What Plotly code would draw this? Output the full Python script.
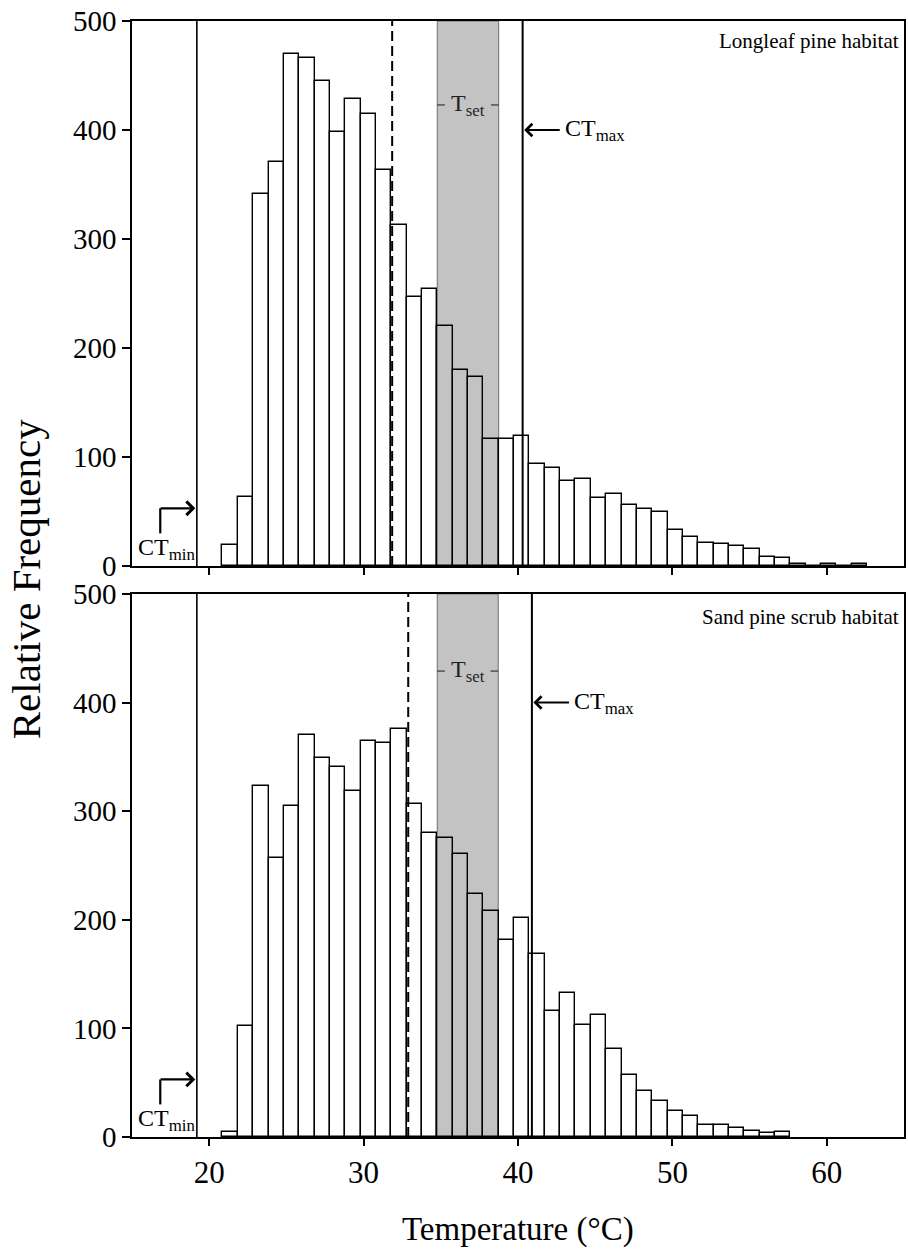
import plotly.graph_objects as go

# ---------------- data ----------------
top_bins = list(range(21, 63))
top_freq = [19, 63, 341, 371, 470, 466, 445, 398, 428, 415, 363, 313, 247, 254,
            220, 180, 173, 117, 117, 119, 94, 90, 78, 80, 62, 66, 56, 52, 50, 33,
            27, 21, 20, 18, 16, 8, 7, 1.5, 0, 1.5, 0, 1.5]

bot_bins = list(range(21, 58))
bot_freq = [5, 102, 323, 257, 305, 370, 349, 341, 319, 365, 363, 376, 307, 280,
            275, 261, 224, 208, 181, 202, 169, 116, 133, 103, 112, 81, 57, 42, 33,
            24, 19, 11, 11, 8, 6, 4, 5]

panel_titles = ["Longleaf pine habitat", "Sand pine scrub habitat"]
tset_lo = [34.77, 34.77]
tset_hi = [38.75, 38.72]
mean_temp = [31.85, 32.89]
ct_max = [40.3, 40.9]
ct_min = [19.2, 19.2]
x_ticks = [20, 30, 40, 50, 60]
y_ticks = [0, 100, 200, 300, 400, 500]

# ---------------- style ----------------
FONT = "Liberation Serif"
BIN_ORIGIN = 20.86
BIN_W = 0.994


def centers(bins):
    return [BIN_ORIGIN + (b - 21) * BIN_W + BIN_W / 2 for b in bins]


fig = go.Figure()
fig.add_trace(go.Bar(x=centers(top_bins), y=top_freq, width=BIN_W,
                     marker=dict(color="rgba(0,0,0,0)", line=dict(color="black", width=1.4)),
                     xaxis="x", yaxis="y", showlegend=False))
fig.add_trace(go.Bar(x=centers(bot_bins), y=bot_freq, width=BIN_W,
                     marker=dict(color="rgba(0,0,0,0)", line=dict(color="black", width=1.4)),
                     xaxis="x2", yaxis="y2", showlegend=False))

shapes = []
annotations = []
for i, (xr, yr) in enumerate([("x", "y"), ("x2", "y2")]):
    # Tset band
    shapes.append(dict(type="rect", xref=xr, yref=yr, x0=tset_lo[i], x1=tset_hi[i],
                       y0=0, y1=500, fillcolor="#c3c3c3",
                       line=dict(color="#6e6e6e", width=1), layer="below"))
    # mean (dashed)
    shapes.append(dict(type="line", xref=xr, yref=yr, x0=mean_temp[i], x1=mean_temp[i],
                       y0=0, y1=500, line=dict(color="black", width=2, dash="10px,5px"),
                       layer="above"))
    # CTmax
    shapes.append(dict(type="line", xref=xr, yref=yr, x0=ct_max[i], x1=ct_max[i],
                       y0=0, y1=500, line=dict(color="black", width=2), layer="above"))
    # CTmin
    shapes.append(dict(type="line", xref=xr, yref=yr, x0=ct_min[i], x1=ct_min[i],
                       y0=0, y1=500, line=dict(color="black", width=1.6), layer="above"))
    # Tset label dashes
    ty = 423 if i == 0 else 429
    shapes.append(dict(type="line", xref=xr, yref=yr, x0=tset_lo[i], x1=tset_lo[i] + 0.5,
                       y0=ty, y1=ty, line=dict(color="#333333", width=1.2)))
    shapes.append(dict(type="line", xref=xr, yref=yr, x0=tset_hi[i] - 0.5, x1=tset_hi[i],
                       y0=ty, y1=ty, line=dict(color="#333333", width=1.2)))
    annotations.append(dict(xref=xr, yref=yr, x=(tset_lo[i] + tset_hi[i]) / 2, y=ty,
                            text="T<sub>set</sub>", showarrow=False,
                            font=dict(family=FONT, size=24, color="#222222")))
    # CTmax arrow + text
    tail = ct_max[i] + 2.5
    annotations.append(dict(xref=xr, yref=yr, x=ct_max[i] + 0.1, y=400, ax=tail, ay=400,
                            axref=xr, ayref=yr, text="", showarrow=True, arrowhead=4,
                            arrowsize=1.2, arrowwidth=2, arrowcolor="black", standoff=0))
    annotations.append(dict(xref=xr, yref=yr, x=tail + 0.1, y=400, text="CT<sub>max</sub>",
                            xanchor="left", showarrow=False,
                            font=dict(family=FONT, size=24, color="black")))
    # CTmin bent arrow + text
    bx = 16.83
    shapes.append(dict(type="line", xref=xr, yref=yr, x0=bx, x1=bx, y0=30, y1=53,
                       line=dict(color="black", width=2.2)))
    annotations.append(dict(xref=xr, yref=yr, x=ct_min[i] - 0.1, y=53, ax=bx - 0.07, ay=53,
                            axref=xr, ayref=yr, text="", showarrow=True, arrowhead=4,
                            arrowsize=1.2, arrowwidth=2.2, arrowcolor="black", standoff=0))
    annotations.append(dict(xref=xr, yref=yr, x=15.25, y=16 if i == 0 else 15.5,
                            text="CT<sub>min</sub>", xanchor="left", showarrow=False,
                            font=dict(family=FONT, size=24, color="black")))
    # habitat label
    annotations.append(dict(xref=xr, yref=yr, x=64.8, y=482 if i == 0 else 479,
                            text=panel_titles[i], xanchor="right", showarrow=False,
                            font=dict(family=FONT, size=21, color="black")))

# axis titles
annotations.append(dict(xref="paper", yref="paper", x=-0.137, y=0.5, textangle=-90,
                        xanchor="center", yanchor="middle",
                        text="Relative Frequency", showarrow=False,
                        font=dict(family=FONT, size=41, color="black")))
annotations.append(dict(xref="paper", yref="paper", x=0.5, y=-0.083,
                        xanchor="center", yanchor="middle",
                        text="Temperature (°C)", showarrow=False,
                        font=dict(family=FONT, size=33, color="black")))

axis_common = dict(range=[15, 65], tickvals=x_ticks, ticks="outside", ticklen=7,
                   tickwidth=1.5, tickcolor="black", showline=True, linecolor="black",
                   linewidth=1.5, mirror=True, showgrid=False, zeroline=False,
                   tickfont=dict(family=FONT, size=31, color="black"))
yaxis_common = dict(range=[0, 500], tickvals=y_ticks, ticks="outside", ticklen=8,
                    tickwidth=1.5, tickcolor="black", showline=True, linecolor="black",
                    linewidth=1.5, mirror=True, showgrid=False, zeroline=False,
                    tickfont=dict(family=FONT, size=29, color="black"))

fig.update_layout(
    width=908, height=1249,
    margin=dict(l=132, r=2, t=21, b=112),
    paper_bgcolor="white", plot_bgcolor="white",
    bargap=0,
    xaxis=dict(**axis_common, domain=[0, 1], anchor="y", showticklabels=False),
    yaxis=dict(**yaxis_common, domain=[0.5116, 1], anchor="x"),
    xaxis2=dict(**axis_common, domain=[0, 1], anchor="y2"),
    yaxis2=dict(**yaxis_common, domain=[0, 0.4866], anchor="x2"),
    shapes=shapes,
    annotations=annotations,
    showlegend=False,
)

fig.write_html("out.html", config={"displayModeBar": False},
               post_script="document.body.style.margin='0';document.body.style.overflow='hidden';")
